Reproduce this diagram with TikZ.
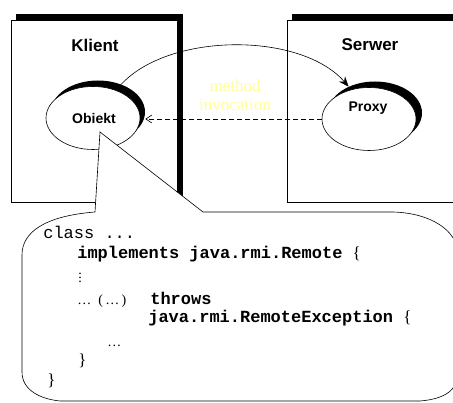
\documentclass[tikz,border=0pt]{standalone}
\usepackage{fontspec}
\setmainfont{Liberation Serif}
\setsansfont{Liberation Sans}
\setmonofont{Liberation Mono}
\usepackage{xcolor}
\usetikzlibrary{arrows.meta,shapes.geometric}
\definecolor{invokecol}{RGB}{255,255,150}

\begin{document}
\begin{tikzpicture}[x=1pt,y=-1pt,line width=0.6pt,
	hostbox/.style={draw,fill=white},
	blob/.style={ellipse,draw,fill=white,minimum width=94pt,minimum height=63pt,inner sep=0pt},
	blobshadow/.style={ellipse,fill=black,minimum width=94pt,minimum height=63pt,inner sep=0pt},
	hostname/.style={font=\sffamily\bfseries\fontsize{17}{20}\selectfont},
	objname/.style={font=\sffamily\bfseries\fontsize{14}{17}\selectfont},
	invoke/.style={text=invokecol,anchor=base,inner sep=0pt,font=\rmfamily\fontsize{17}{19}\selectfont},
	codeline/.style={anchor=base west,inner sep=0pt,font=\ttfamily\fontsize{17}{20}\selectfont},
	codemark/.style={anchor=base west,inner sep=0pt,font=\rmfamily\fontsize{14}{16}\selectfont}]
	\useasboundingbox (0,0) rectangle (453,403);
	\clip (0,0) rectangle (453,403);

	% hosts
	\fill (16,14) rectangle (183,196);
	\draw[hostbox] (11,20) rectangle (177,202);
	\fill (292,14) rectangle (475,196);
	\draw[hostbox] (287,20) rectangle (470,202);
	\node[hostname] (klient) at (95,45) {Klient};
	\node[hostname] (serwer) at (370,45) {Serwer};

	% objects
	\node[blobshadow] (objsh) at (98,112) {};
	\node[blob] (obj) at (93,118) {};
	\node[objname] (objlbl) at (94,118) {Obiekt};
	\node[blobshadow] (prxsh) at (375,113) {};
	\node[blob] (prx) at (369,119) {};
	\node[objname] (prxlbl) at (368,108) {Proxy};

	\draw[-{Stealth[length=10pt,width=8pt]}] (objsh.50) .. controls (170,32) and (301,32) .. (prxsh.135);
	\draw[dash pattern=on 5pt off 3pt,-{Straight Barb[length=6pt,width=8pt]}] (prx.west) -- (prx.west -| objsh.east);

	\node[invoke] (meth) at (235,92) {method};
	\node[invoke] (invo) at (235,111) {invocation};

	% callout
	\draw[fill=white] (95,212) .. controls (45,216) and (22,232) .. (22,255) -- (22,372)
		.. controls (22,390) and (40,399) .. (60,401) -- (420,401)
		.. controls (445,399) and (458,390) .. (458,372) -- (458,255)
		.. controls (458,230) and (430,213) .. (393,212) -- (203,212) -- (100,132) -- cycle;

	\node[codeline] (cls) at (43,239) {class ...};
	\node[codeline] (impl) at (77,259) {\bfseries implements java.rmi.Remote {\rmfamily\mdseries\{}};
	\node[codemark,text height=10pt,text depth=0pt] (vdt) at (78,283) {$\vdots$};
	\node[codemark] (sig) at (77,305) {\ldots\ \ (\,\ldots\,)};
	\node[codeline] (thr) at (150,305) {\bfseries throws};
	\node[codeline] (exc) at (148,323) {\bfseries java.rmi.RemoteException {\rmfamily\mdseries\{}};
	\node[codemark] (body) at (107,347) {\ldots};
	\node[codeline] (endm) at (78,366) {\rmfamily\}};
	\node[codeline] (endc) at (47,386) {\rmfamily\}};
\end{tikzpicture}
\end{document}
